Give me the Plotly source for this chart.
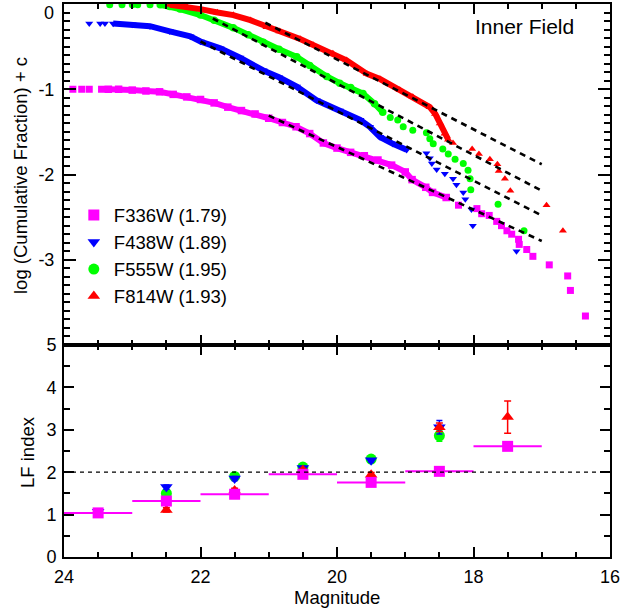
import plotly.graph_objects as go

# ---------------- data: upper panel (cumulative luminosity functions) ----------------
# dense parts of each curve (mag, log cumulative fraction + c)
f336_band_mag = [23.35, 23.2, 23.0, 22.8, 22.6, 22.4, 22.2, 22.0, 21.8, 21.6, 21.4, 21.2, 21.0,
                 20.8, 20.6, 20.4, 20.2, 20.0, 19.8, 19.6, 19.4, 19.2, 19.0, 18.9, 18.7, 18.6, 18.4]
f336_band_y = [-1.00, -1.00, -1.01, -1.02, -1.03, -1.06, -1.09, -1.12, -1.16, -1.21, -1.25, -1.29, -1.34,
               -1.39, -1.44, -1.52, -1.63, -1.69, -1.74, -1.78, -1.83, -1.89, -1.97, -2.06, -2.15, -2.21, -2.27]
f336_pts_mag = [23.87, 23.74, 23.63, 23.45, 18.22, 17.95, 17.88, 17.77, 17.66, 17.59, 17.51, 17.44,
                17.34, 17.33, 17.22, 17.13, 16.89, 16.62, 16.58, 16.36]
f336_pts_y = [-1.00, -1.00, -1.00, -1.00, -2.36, -2.40, -2.46, -2.48, -2.55, -2.60, -2.66, -2.70,
              -2.76, -2.82, -2.88, -2.96, -3.06, -3.19, -3.36, -3.66]

f438_band_mag = [23.28, 23.0, 22.74, 22.45, 22.15, 22.0, 21.71, 21.42, 21.08, 20.85, 20.59, 20.30,
                 19.96, 19.66, 19.52, 19.37, 19.18, 18.98]
f438_band_y = [-0.23, -0.24, -0.26, -0.32, -0.38, -0.44, -0.52, -0.63, -0.78, -0.86, -0.97, -1.13,
               -1.25, -1.36, -1.44, -1.56, -1.64, -1.71]
f438_pts_mag = [23.63, 23.47, 23.40, 18.69, 18.64, 18.61, 18.54, 18.42, 18.30, 18.25, 18.15, 18.12,
                18.03, 18.01, 17.37]
f438_pts_y = [-0.23, -0.23, -0.23, -1.75, -1.81, -1.87, -1.94, -1.99, -2.05, -2.12, -2.21, -2.29,
              -2.41, -2.60, -2.90]

f555_band_mag = [22.59, 22.45, 22.3, 22.0, 21.8, 21.52, 21.3, 21.08, 20.85, 20.59, 20.4, 20.15,
                 19.96, 19.8, 19.62, 19.45, 19.33]
f555_band_y = [-0.01, -0.03, -0.06, -0.13, -0.19, -0.28, -0.36, -0.45, -0.53, -0.62, -0.72, -0.85,
               -0.93, -0.98, -1.05, -1.17, -1.27]
f555_pts_mag = [23.33, 23.15, 23.00, 22.92, 22.74, 19.22, 19.11, 19.03, 18.89, 18.69, 18.64, 18.59,
                18.45, 18.37, 18.27, 18.15, 18.08, 18.05, 18.04, 17.64, 17.26]
f555_pts_y = [-0.01, -0.01, -0.01, -0.01, -0.01, -1.33, -1.36, -1.44, -1.48, -1.51, -1.58, -1.64,
              -1.70, -1.76, -1.82, -1.87, -1.95, -2.05, -2.18, -2.35, -2.66]

f814_band_mag = [22.45, 22.2, 22.0, 21.75, 21.52, 21.27, 21.03, 20.84, 20.54, 20.35, 20.06, 19.86,
                 19.56, 19.37, 19.08, 18.89, 18.64, 18.56, 18.49, 18.42, 18.37]
f814_band_y = [-0.01, -0.03, -0.06, -0.10, -0.13, -0.19, -0.27, -0.32, -0.41, -0.48, -0.58, -0.66,
               -0.82, -0.88, -1.01, -1.09, -1.21, -1.29, -1.40, -1.52, -1.59]
f814_pts_mag = [18.30, 18.02, 17.92, 17.76, 17.65, 17.63, 17.54, 17.46, 16.93, 16.69]
f814_pts_y = [-1.63, -1.70, -1.76, -1.82, -1.88, -1.96, -2.05, -2.19, -2.36, -2.66]

# power-law fits (dashed lines): order F336W, F438W, F555W, F814W
fit_mag_start = [21.0, 22.0, 21.82, 21.05]
fit_y_start = [-1.31, -0.44, -0.17, -0.22]
fit_mag_end = [17.0, 17.0, 17.0, 17.0]
fit_y_end = [-2.78, -2.48, -2.19, -1.88]

# ---------------- data: lower panel (LF index per magnitude bin) ----------------
f336_bin = [23.5, 22.5, 21.5, 20.5, 19.5, 18.5, 17.5]
f336_idx = [1.04, 1.32, 1.48, 1.95, 1.76, 2.02, 2.61]
f336_binhalf = [0.5, 0.5, 0.5, 0.5, 0.5, 0.5, 0.5]

f438_bin = [23.5, 22.5, 21.5, 20.5, 19.5, 18.5]
f438_idx = [1.07, 1.65, 1.85, 2.10, 2.28, 3.06]
f438_err = [0.04, 0.05, 0.05, 0.04, 0.04, 0.16]

f555_bin = [22.5, 21.5, 20.5, 19.5, 18.5]
f555_idx = [1.50, 1.90, 2.12, 2.31, 2.86]
f555_err = [0.05, 0.05, 0.04, 0.04, 0.13]

f814_bin = [22.5, 21.5, 20.5, 19.5, 18.5, 17.5]
f814_idx = [1.11, 1.57, 2.05, 1.94, 3.06, 3.30]
f814_err = [0.05, 0.05, 0.04, 0.05, 0.10, 0.38]

lf_reference = 2.0

labels = ["F336W (1.79)", "F438W (1.89)", "F555W (1.95)", "F814W (1.93)"]
colors = ["#FF00FF", "#0000FF", "#00FF00", "#FF0000"]
symbols = ["square", "triangle-down", "circle", "triangle-up"]

FONT = "Liberation Sans, Arial, Helvetica, sans-serif"

fig = go.Figure()

# ---- upper panel ----
bands = [(f336_band_mag, f336_band_y), (f438_band_mag, f438_band_y),
         (f555_band_mag, f555_band_y), (f814_band_mag, f814_band_y)]
pts = [(f336_pts_mag, f336_pts_y), (f438_pts_mag, f438_pts_y),
       (f555_pts_mag, f555_pts_y), (f814_pts_mag, f814_pts_y)]
for i in range(4):
    bx, by = bands[i]
    px, py = pts[i]
    fig.add_trace(go.Scatter(x=bx, y=by, xaxis="x2", yaxis="y2", mode="lines+markers",
                             line=dict(color=colors[i], width=6),
                             marker=dict(symbol=symbols[i], size=7.5, color=colors[i], line=dict(width=0)),
                             showlegend=False, hoverinfo="skip"))
    fig.add_trace(go.Scatter(x=px, y=py, xaxis="x2", yaxis="y2", mode="markers",
                             marker=dict(symbol=symbols[i], size=7, color=colors[i], line=dict(width=0)),
                             showlegend=False, hoverinfo="skip"))
for i in range(4):
    fig.add_trace(go.Scatter(x=[fit_mag_start[i], fit_mag_end[i]], y=[fit_y_start[i], fit_y_end[i]],
                             xaxis="x2", yaxis="y2", mode="lines",
                             line=dict(color="black", width=2.6, dash="6px,5px"),
                             showlegend=False, hoverinfo="skip"))

# ---- lower panel ----
fig.add_trace(go.Scatter(x=f555_bin, y=f555_idx, mode="markers", name=labels[2], legendrank=3,
                         marker=dict(symbol=symbols[2], size=11, color=colors[2], line=dict(width=0)),
                         error_y=dict(type="data", array=f555_err, color=colors[2], thickness=1.5, width=3)))
fig.add_trace(go.Scatter(x=f438_bin, y=f438_idx, mode="markers", name=labels[1], legendrank=2,
                         marker=dict(symbol=symbols[1], size=11, color=colors[1], line=dict(width=0)),
                         error_y=dict(type="data", array=f438_err, color=colors[1], thickness=1.5, width=3)))
fig.add_trace(go.Scatter(x=f814_bin, y=f814_idx, mode="markers", name=labels[3], legendrank=4,
                         marker=dict(symbol=symbols[3], size=11, color=colors[3], line=dict(width=0)),
                         error_y=dict(type="data", array=f814_err, color=colors[3], thickness=1.5, width=3.5)))
fig.add_trace(go.Scatter(x=f336_bin, y=f336_idx, mode="markers", name=labels[0], legendrank=1,
                         marker=dict(symbol=symbols[0], size=11, color=colors[0], line=dict(width=0)),
                         error_x=dict(type="data", array=f336_binhalf, color=colors[0], thickness=2, width=0)))

fig.add_shape(type="line", xref="x domain", x0=0, x1=1, yref="y", y0=lf_reference, y1=lf_reference,
              line=dict(color="black", width=1.2, dash="4px,4px"))

split = (557 - 345) / 553.0
axis_common = dict(showline=True, linewidth=2, linecolor="black", mirror="allticks", automargin=False,
                   ticks="inside", tickcolor="black", tickwidth=1.5, showgrid=False, zeroline=False,
                   tickfont=dict(family=FONT, size=18, color="black"))

fig.update_layout(
    template="none",
    width=636, height=609,
    margin=dict(l=64, r=26, t=4, b=52, autoexpand=False),
    paper_bgcolor="white", plot_bgcolor="white",
    font=dict(family=FONT, size=18, color="black"),
    showlegend=True,
    legend=dict(x=0.018, y=0.652, xanchor="left", yanchor="top", bgcolor="rgba(0,0,0,0)",
                borderwidth=0, font=dict(family=FONT, size=18.5, color="black"), tracegroupgap=0),
    xaxis=dict(domain=[0, 1], anchor="y", range=[24, 16], tick0=16, dtick=2, ticklen=10,
               ticklabelstandoff=2,
               minor=dict(dtick=0.5, ticklen=5, ticks="inside", tickcolor="black", tickwidth=1.5),
               **axis_common),
    xaxis2=dict(domain=[0, 1], anchor="y2", matches="x", range=[24, 16], tick0=16, dtick=2, ticklen=10,
                showticklabels=False,
                minor=dict(dtick=0.5, ticklen=5, ticks="inside", tickcolor="black", tickwidth=1.5),
                **axis_common),
    yaxis=dict(domain=[0, split], anchor="x", range=[0, 5], tick0=0, dtick=1, ticklen=10,
               ticklabelstandoff=2,
               minor=dict(dtick=0.5, ticklen=6, ticks="inside", tickcolor="black", tickwidth=1.5),
               **axis_common),
    yaxis2=dict(domain=[split, 1], anchor="x2", range=[-4, 0], tickmode="array",
                tickvals=[-1, -2, -3], ticktext=["-1", "-2", "-3"], ticklen=12, ticklabelstandoff=4,
                minor=dict(tickmode="linear", tick0=0, dtick=0.1, ticklen=6, ticks="inside",
                           tickcolor="black", tickwidth=1.5),
                **axis_common),
)

annots = [
    dict(text="0", xref="paper", x=0, xanchor="right", xshift=-8, yref="y2", y=0, yanchor="middle",
         yshift=-9, showarrow=False, font=dict(family=FONT, size=18)),
    dict(text="Inner Field", xref="paper", x=(576 - 64) / 546, xanchor="right", yref="paper",
         y=(557 - 27) / 553, yanchor="middle", showarrow=False, font=dict(family=FONT, size=21)),
    dict(text="Magnitude", xref="paper", x=0.5, xanchor="center", yref="paper", y=(557 - 597) / 553,
         yanchor="middle", showarrow=False, font=dict(family=FONT, size=18.5)),
    dict(text="log (Cumulative Fraction) + c", xref="paper", x=(20 - 64) / 546, xanchor="center",
         yref="paper", y=(557 - 176) / 553, yanchor="middle", textangle=-90, showarrow=False,
         font=dict(family=FONT, size=18.5)),
    dict(text="LF index", xref="paper", x=(27 - 64) / 546, xanchor="center",
         yref="paper", y=(557 - 452) / 553, yanchor="middle", textangle=-90, showarrow=False,
         font=dict(family=FONT, size=18.5)),
]
fig.update_layout(annotations=annots)

fig.write_html("out.html")
